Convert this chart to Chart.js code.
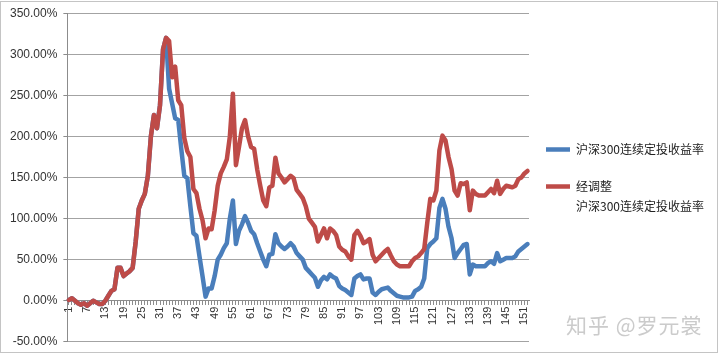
<!DOCTYPE html>
<html>
<head>
<meta charset="utf-8">
<script src="https://cdn.jsdelivr.net/npm/chart.js@4/dist/chart.umd.min.js"></script>
<style>
  body { margin: 0; background: #fff; }
  #wrap { position: relative; width: 720px; height: 355px; }
  #marco { position: absolute; left: 0; top: 1px; width: 716px; height: 350px; border: 1px solid #c4c4c4; pointer-events: none; }
  #marca { position: absolute; left: 566px; top: 309px; font: 21px "Noto Sans CJK SC", sans-serif; color: #cbcbcb; letter-spacing: 1px; }
</style>
</head>
<body>
<div id="wrap">
  <canvas id="grafico" width="720" height="355"></canvas>
  <div id="marco"></div>
  <div id="marca">知乎 @罗元裳</div>
</div>
<script>
// Periodos (meses) 1..152
const periodos = [
  1,2,3,4,5,6,7,8,9,10,11,12,13,14,15,16,17,18,19,20,21,22,23,24,25,26,27,28,29,30,
  31,32,33,34,35,36,37,38,39,40,41,42,43,44,45,46,47,48,49,50,51,52,53,54,55,56,57,58,59,60,
  61,62,63,64,65,66,67,68,69,70,71,72,73,74,75,76,77,78,79,80,81,82,83,84,85,86,87,88,89,90,
  91,92,93,94,95,96,97,98,99,100,101,102,103,104,105,106,107,108,109,110,111,112,113,114,115,116,117,118,119,120,
  121,122,123,124,125,126,127,128,129,130,131,132,133,134,135,136,137,138,139,140,141,142,143,144,145,146,147,148,149,150,
  151,152
];

// Etiquetas que se muestran en el eje X (cada 6)
const etiquetasX = [1,7,13,19,25,31,37,43,49,55,61,67,73,79,85,91,97,103,109,115,121,127,133,139,145,151];

// 沪深300连续定投收益率 (%)
const rendimiento = [
  1,3,0,-3,-5,-3,-6,-3,0,-2,-4,-4,0,6,12,14,40,40,30,33,36,40,72,112,122,130,152,200,226,210,
  238,306,320,258,240,222,220,185,152,149,115,82,79,54,30,5,15,15,30,50,56,64,70,100,122,69,85,93,103,95,
  85,81,70,60,50,42,56,57,81,70,66,63,66,70,66,58,54,50,40,36,32,28,17,25,29,26,32,29,27,18,
  15,13,10,7,27,30,32,26,27,27,10,7,11,14,15,16,12,9,6,5,4,4,4,5,12,14,17,27,64,69,
  72,76,113,124,112,90,76,52,58,63,68,69,32,44,42,42,42,42,46,48,45,58,48,50,52,52,52,54,60,63,
  66,69
];

// 经调整 沪深300连续定投收益率 (%)
const rendimientoAjustado = [
  1,3,0,-3,-5,-3,-6,-3,0,-2,-4,-4,0,6,12,14,40,40,30,33,36,40,72,112,122,130,152,200,226,210,
  238,306,320,316,272,285,244,238,198,182,175,136,131,112,98,76,88,87,110,140,155,163,172,200,252,165,187,210,220,200,
  187,185,160,140,122,115,138,140,174,155,150,144,148,152,149,135,130,125,115,100,95,90,72,80,88,76,88,85,80,66,
  62,60,54,50,80,85,79,70,72,75,56,48,52,56,60,63,55,48,44,42,42,42,42,48,52,54,58,63,95,124,
  122,134,183,201,195,175,160,134,128,143,142,144,110,134,130,128,128,128,132,136,131,146,130,136,140,139,138,140,148,150,
  155,158
];

const ctx = document.getElementById("grafico").getContext("2d");

new Chart(ctx, {
  type: 'line',
  data: {
    labels: periodos,
    datasets: [
      {
        label: ['沪深300连续定投收益率'],
        data: rendimiento,
        borderColor: '#4A7EBB',
        backgroundColor: '#4A7EBB',
        borderWidth: 4.5,
        borderCapStyle: 'round',
        borderJoinStyle: 'round',
        pointRadius: 0,
        order: 1
      },
      {
        label: ['经调整', '沪深300连续定投收益率'],
        data: rendimientoAjustado,
        borderColor: '#BE4B48',
        backgroundColor: '#BE4B48',
        borderWidth: 4.5,
        borderCapStyle: 'round',
        borderJoinStyle: 'round',
        pointRadius: 0,
        order: 0
      }
    ]
  },
  options: {
    responsive: false,
    animation: false,
    layout: { padding: { left: 4, top: 7, bottom: 8, right: 16 } },
    plugins: {
      tooltip: { enabled: false },
      legend: {
        position: 'right',
        align: 'center',
        title: { display: true, text: '', padding: 0, font: { size: 10, lineHeight: 1.0 } },
        labels: {
          usePointStyle: true,
          pointStyle: 'line',
          pointStyleWidth: 24,
          boxWidth: 24,
          boxHeight: 12,
          padding: 17,
          color: '#222',
          font: { family: '"Noto Sans CJK SC", sans-serif', size: 12, lineHeight: 20 / 12 },
          sort: (a, b) => a.datasetIndex - b.datasetIndex
        }
      }
    },
    scales: {
      x: {
        position: { y: 0 },
        offset: true,
        grid: { display: true, drawOnChartArea: false, drawTicks: true, tickLength: 4, tickColor: '#8c8c8c' },
        border: { color: '#8c8c8c', width: 1 },
        ticks: {
          autoSkip: false,
          minRotation: 90,
          maxRotation: 90,
          padding: 2,
          color: '#333',
          font: { family: '"Liberation Sans", sans-serif', size: 11 },
          callback: function (valor, i) {
            const p = periodos[i];
            return etiquetasX.includes(p) ? String(p) : '';
          }
        }
      },
      y: {
        min: -50,
        max: 350,
        grid: { color: '#a3a3a3', lineWidth: 1, tickLength: 4, tickColor: '#8c8c8c' },
        border: { color: '#8c8c8c', width: 1 },
        ticks: {
          stepSize: 50,
          padding: 6,
          color: '#333',
          font: { family: '"Liberation Sans", sans-serif', size: 12 },
          callback: valor => valor.toFixed(2) + '%'
        }
      }
    }
  }
});
</script>
</body>
</html>
